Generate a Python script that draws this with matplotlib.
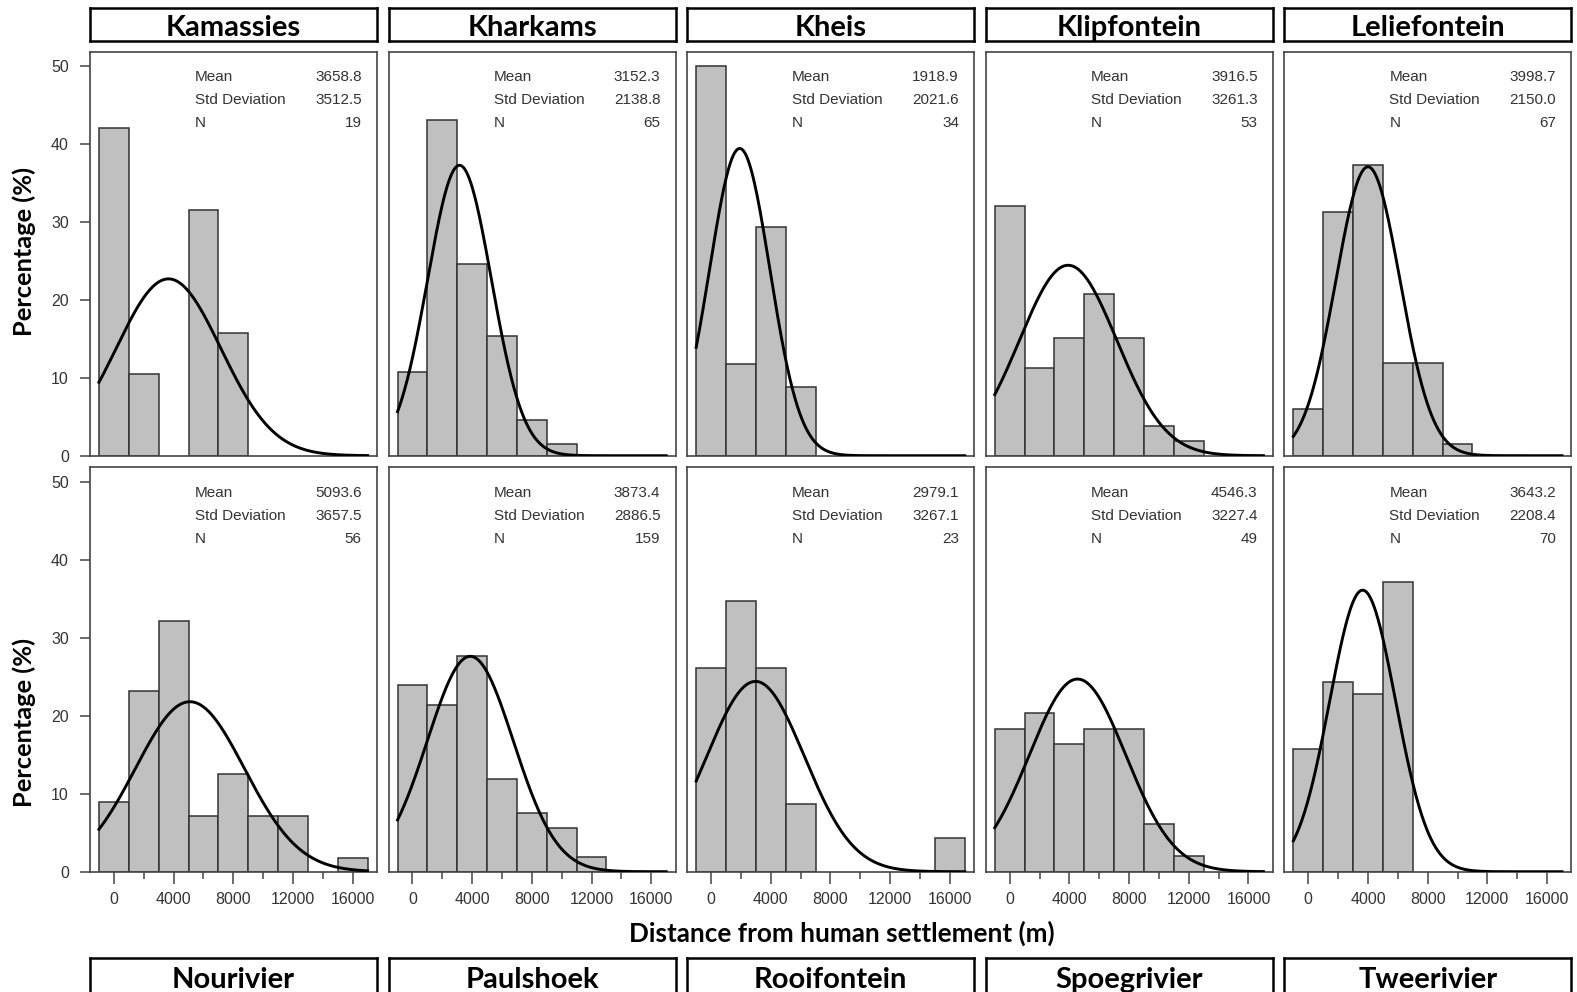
import numpy as np
import matplotlib
matplotlib.use("Agg")
import matplotlib.pyplot as plt

# site names, in panel order (top row then bottom row)
sites = ["Kamassies", "Kharkams", "Kheis", "Klipfontein", "Leliefontein",
         "Nourivier", "Paulshoek", "Rooifontein", "Spoegrivier", "Tweerivier"]
means = [3658.8, 3152.3, 1918.9, 3916.5, 3998.7,
         5093.6, 3873.4, 2979.1, 4546.3, 3643.2]
sds = [3512.5, 2138.8, 2021.6, 3261.3, 2150.0,
       3657.5, 2886.5, 3267.1, 3227.4, 2208.4]
ns = [19, 65, 34, 53, 67, 56, 159, 23, 49, 70]

# counts per 2000 m bin, bins centred on 0, 2000, ..., 16000
counts = [
    [8, 2, 0, 6, 3, 0, 0, 0, 0],
    [7, 28, 16, 10, 3, 1, 0, 0, 0],
    [17, 4, 10, 3, 0, 0, 0, 0, 0],
    [17, 6, 8, 11, 8, 2, 1, 0, 0],
    [4, 21, 25, 8, 8, 1, 0, 0, 0],
    [5, 13, 18, 4, 7, 4, 4, 0, 1],
    [38, 34, 44, 19, 12, 9, 3, 0, 0],
    [6, 8, 6, 2, 0, 0, 0, 0, 1],
    [9, 10, 8, 9, 9, 3, 1, 0, 0],
    [11, 17, 16, 26, 0, 0, 0, 0, 0],
]
bin_centres = np.arange(0, 16001, 2000)
bin_width = 2000.0

x_major = [0, 4000, 8000, 12000, 16000]
x_minor = [2000, 6000, 10000, 14000]
y_ticks = [0, 10, 20, 30, 40, 50]

W, H = 1577, 992
fig = plt.figure(figsize=(W / 100, H / 100), dpi=100)
fig.patch.set_facecolor("white")

TITLE_FONT = "Lato"
NUM_FONT = "Liberation Sans"
GREY = "#444444"


def fig_axes(left, top, width, height):
    # place axes using pixel coordinates measured from the top-left corner
    return fig.add_axes([left / W, 1 - (top + height) / H, width / W, height / H])


col_left = [90 + 298.6 * i for i in range(5)]
col_w = 287.0
row_top = [51.7, 467.3]
row_h = [404.0, 404.4]

for idx, site in enumerate(sites):
    r, c = divmod(idx, 5)
    ax = fig_axes(col_left[c], row_top[r], col_w, row_h[r])

    pct = 100.0 * np.array(counts[idx]) / ns[idx]
    keep = pct > 0
    ax.bar(bin_centres[keep], pct[keep], width=bin_width, color="#c0c0c0",
           edgecolor="#333333", linewidth=1.1, zorder=2)

    # fitted normal curve, scaled to percent per bin
    xs = np.linspace(-1000, 17000, 500)
    pdf = np.exp(-0.5 * ((xs - means[idx]) / sds[idx]) ** 2) / (sds[idx] * np.sqrt(2 * np.pi))
    ax.plot(xs, 100 * bin_width * pdf, color="black", linewidth=2.1, zorder=3)

    ax.set_xlim(-1600, 17630)
    ax.set_ylim(0, 51.9)
    for s in ax.spines.values():
        s.set_color(GREY)
        s.set_linewidth(1.2)

    # summary statistics
    rows = [("Mean", f"{means[idx]:.1f}"), ("Std Deviation", f"{sds[idx]:.1f}"),
            ("N", f"{ns[idx]}")]
    for k, (lab, val) in enumerate(rows):
        yy = 1 - (29.7 + 23 * k) / row_h[r]
        ax.text(0.366, yy, lab, transform=ax.transAxes, ha="left", va="baseline",
                fontsize=11, family=NUM_FONT, color="#333333")
        ax.text(0.947, yy, val, transform=ax.transAxes, ha="right", va="baseline",
                fontsize=11, family=NUM_FONT, color="#333333")

    if c == 0:
        ax.set_yticks(y_ticks)
        ax.tick_params(axis="y", length=7.2, width=1.1, color=GREY, pad=8,
                       labelsize=11.5, labelcolor="#333333")
        for t in ax.get_yticklabels():
            t.set_family(NUM_FONT)
    else:
        ax.set_yticks([])

    if r == 1:
        ax.set_xticks(x_major)
        ax.set_xticks(x_minor, minor=True)
        ax.tick_params(axis="x", which="major", length=8.6, width=1.1, color=GREY,
                       pad=6, labelsize=11.5, labelcolor="#333333")
        ax.tick_params(axis="x", which="minor", length=5, width=1.1, color=GREY)
        for t in ax.get_xticklabels():
            t.set_family(NUM_FONT)
    else:
        ax.set_xticks([])

    # site title boxes: top row above, bottom row below the axis label
    if r == 0:
        bx = fig_axes(col_left[c], 8.3, col_w, 32.4)
        base = 35.7
    else:
        bx = fig_axes(col_left[c], 958, col_w, 45)
        base = 988
    bx.set_xticks([])
    bx.set_yticks([])
    for s in bx.spines.values():
        s.set_color("black")
        s.set_linewidth(1.8)
    fig.text((col_left[c] + col_w / 2) / W, 1 - base / H, site, ha="center",
             va="baseline", fontsize=21, fontweight="bold", family=TITLE_FONT)

fig.text(842 / W, 1 - 942 / H, "Distance from human settlement (m)", ha="center",
         va="baseline", fontsize=18.8, fontweight="bold", family=TITLE_FONT)
for yc in [251, 722]:
    fig.text(24 / W, 1 - yc / H, "Percentage (%)", rotation=90, ha="center",
             va="center", fontsize=18.3, fontweight="bold", family=TITLE_FONT)

fig.savefig("out.png", dpi=100, facecolor="white")
